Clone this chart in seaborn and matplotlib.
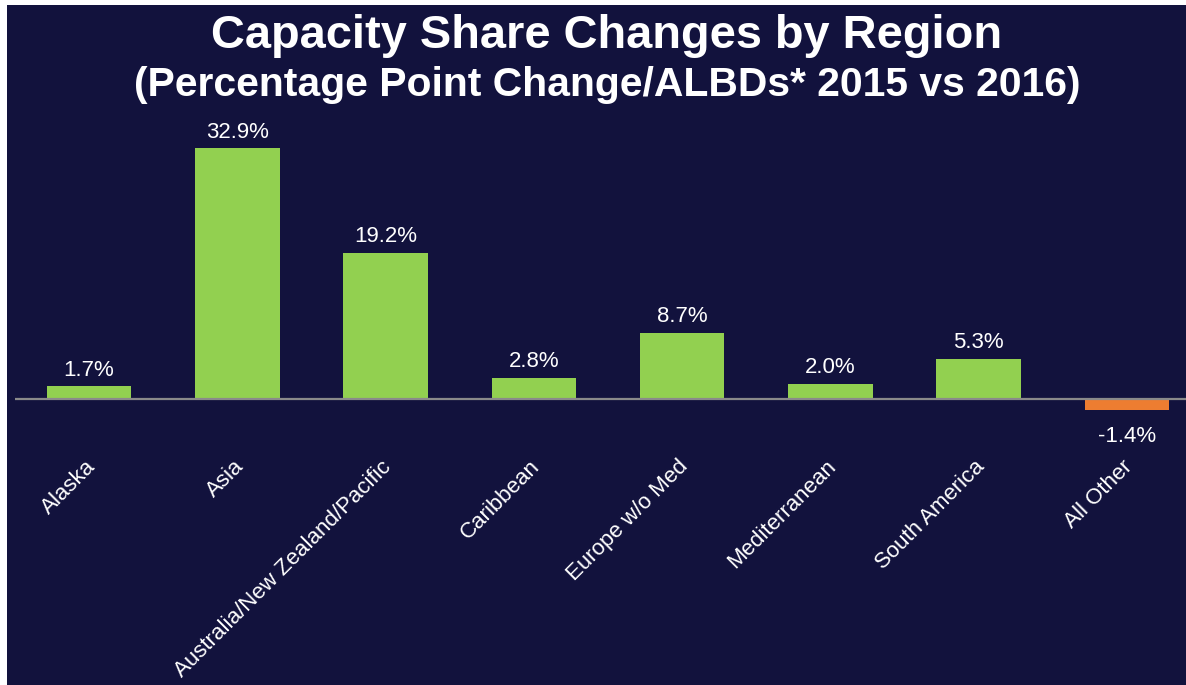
import matplotlib
matplotlib.use("Agg")
import matplotlib.pyplot as plt
from matplotlib.patches import Rectangle
import seaborn as sns

regions = ["Alaska", "Asia", "Australia/New Zealand/Pacific", "Caribbean",
           "Europe w/o Med", "Mediterranean", "South America", "All Other"]
changes = [1.7, 32.9, 19.2, 2.8, 8.7, 2.0, 5.3, -1.4]

BG = "#12123d"
GREEN = "#92d050"
ORANGE = "#ed7d31"

sns.set_theme(style="white")
plt.rcParams["font.family"] = ["Liberation Sans", "DejaVu Sans"]

W, H = 1186, 685
fig = plt.figure(figsize=(W / 100, H / 100), dpi=100, facecolor="white")
# dark panel with a thin white strip on the left and top
fig.patches.append(Rectangle((7 / W, 0), 1, (H - 5) / H, transform=fig.transFigure,
                             facecolor=BG, edgecolor="none", zorder=-5))

# axes run off the right edge like the original crop
ax = fig.add_axes([15 / W, 0, (1201 - 15) / W, (685 - 110) / H], zorder=2)
ax.patch.set_alpha(0)

colors = [GREEN if v >= 0 else ORANGE for v in changes]
sns.barplot(x=regions, y=changes, hue=regions, palette=colors, legend=False,
            width=0.57, saturation=1, linewidth=0, ax=ax)

ax.set_xlim(-0.5, 7.5)
ax.set_ylim(-37.5, 37.9)
ax.axhline(0, color="#8a8a8a", lw=1.6, zorder=3)

for c in ax.containers:
    v = c.datavalues[0]
    ax.bar_label(c, labels=[f"{v:.1f}%"], padding=4 if v >= 0 else 12,
                 color="white", fontsize=16)

for i, name in enumerate(regions):
    ax.text(i - 0.03, -7.5, name, rotation=45, rotation_mode="anchor",
            ha="right", va="top", color="white", fontsize=16)

ax.set_xticks([])
ax.set_yticks([])
ax.set_xlabel("")
ax.set_ylabel("")
sns.despine(ax=ax, left=True, bottom=True)

fig.text(607 / W, 1 - 36 / H, "Capacity Share Changes by Region", ha="center",
         va="center", color="white", fontsize=33.8, fontweight="bold")
fig.text(607 / W, 1 - 85 / H, "(Percentage Point Change/ALBDs* 2015 vs 2016)",
         ha="center", va="center", color="white", fontsize=29.4, fontweight="bold")

fig.savefig("out.png", dpi=100, facecolor=fig.get_facecolor())
